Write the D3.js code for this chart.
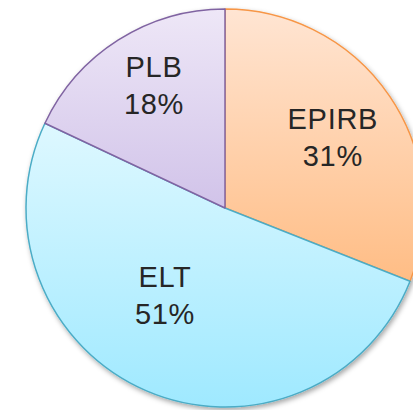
<!DOCTYPE html>
<html>
<head>
<meta charset="utf-8">
<script src="https://cdn.jsdelivr.net/npm/d3@7"></script>
<style>
  html, body { margin: 0; padding: 0; background: #fff; }
  svg { display: block; }
</style>
</head>
<body>
<svg id="pie" width="413" height="410"></svg>
<script>
const categories = ["EPIRB", "ELT", "PLB"];
const shares = [31, 51, 18];

// top / bottom gradient colours and outline per slice
const topColors = ["#ffe5d3", "#def8ff", "#eee7f7"];
const bottomColors = ["#ffbd85", "#9fe9ff", "#d1c3e9"];
const strokeColors = ["#f79646", "#4bacc6", "#8064a2"];

// label placement (distance from centre, angle clockwise from 12 o'clock)
const labelDist = [129, 106, 142];
const labelAngle = [56.7, 214.5, 330];

const svg = d3.select("svg#pie");
const cx = 225, cy = 208, r = 199;

const defs = svg.append("defs");
defs.append("filter")
  .attr("id", "shadow")
  .attr("x", "-10%").attr("y", "-10%")
  .attr("width", "120%").attr("height", "120%")
  .append("feDropShadow")
  .attr("dx", 1.5).attr("dy", 2.5)
  .attr("stdDeviation", 2.5)
  .attr("flood-color", "#000")
  .attr("flood-opacity", 0.35);

const data = categories.map((c, i) => ({ name: c, value: shares[i], i }));

const pie = d3.pie().sort(null).value((d) => d.value);
const arcs = pie(data);
const arc = d3.arc().innerRadius(0).outerRadius(r);

// one vertical gradient per slice, spanning the slice's own box
arcs.forEach((a) => {
  const pts = [[0, 0]];
  for (let t = a.startAngle; t <= a.endAngle; t += 0.01) {
    pts.push([Math.sin(t) * r, -Math.cos(t) * r]);
  }
  pts.push([Math.sin(a.endAngle) * r, -Math.cos(a.endAngle) * r]);
  const ys = pts.map((p) => p[1]);
  const g = defs.append("linearGradient")
    .attr("id", `grad${a.index}`)
    .attr("gradientUnits", "userSpaceOnUse")
    .attr("x1", 0).attr("x2", 0)
    .attr("y1", d3.min(ys)).attr("y2", d3.max(ys));
  g.append("stop").attr("offset", "0%").attr("stop-color", topColors[a.index]);
  g.append("stop").attr("offset", "100%").attr("stop-color", bottomColors[a.index]);
});

const g = svg.append("g").attr("transform", `translate(${cx}, ${cy})`);

g.append("g")
  .attr("filter", "url(#shadow)")
  .selectAll("path")
  .data(arcs)
  .join("path")
  .attr("d", arc)
  .attr("fill", (d) => `url(#grad${d.index})`)
  .attr("stroke", (d) => strokeColors[d.index])
  .attr("stroke-width", 1.5)
  .attr("stroke-linejoin", "round");

// labels
const labels = g.append("g")
  .selectAll("text")
  .data(arcs)
  .join("text")
  .attr("transform", (d) => {
    const a = (labelAngle[d.index] * Math.PI) / 180;
    const dist = labelDist[d.index];
    return `translate(${Math.sin(a) * dist}, ${-Math.cos(a) * dist})`;
  })
  .attr("text-anchor", "middle")
  .attr("font-family", "'Liberation Sans', Arial, sans-serif")
  .attr("font-size", 29)
  .attr("letter-spacing", 0.7)
  .attr("fill", "#262626");

labels.append("tspan")
  .attr("x", 0)
  .attr("y", -8.5)
  .text((d) => d.data.name);
labels.append("tspan")
  .attr("x", 0)
  .attr("y", 28.5)
  .text((d) => `${d.data.value}%`);
</script>
</body>
</html>
